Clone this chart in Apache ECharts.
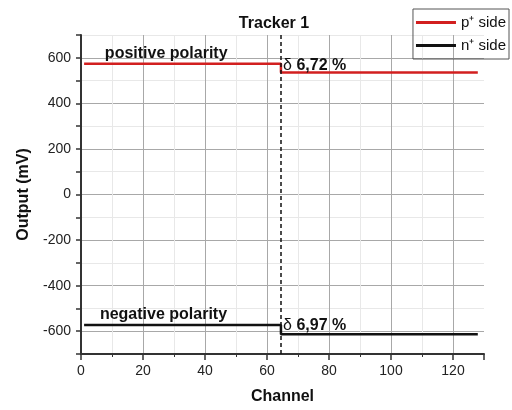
<!DOCTYPE html>
<html>
<head>
<meta charset="utf-8">
<script src="https://cdn.jsdelivr.net/npm/echarts@6/dist/echarts.min.js"></script>
<style>
  html, body { margin: 0; padding: 0; background: #fff; }
  #chart { width: 512px; height: 410px; }
</style>
</head>
<body>
<div id="chart"></div>
<script>
// channel / output values
var stepChannel = 64.5;
var pSide = [[1, 574], [64.5, 574], [64.5, 535], [128, 535]];
var nSide = [[1, -573], [64.5, -573], [64.5, -613], [128, -613]];
var xTicks = { min: 0, max: 130, interval: 20 };
var yTicks = { min: -700, max: 700, interval: 100 };
var labels = {
  pos: 'positive polarity',
  neg: 'negative polarity',
  pDelta: '6,72 %',
  nDelta: '6,97 %'
};

var chart = echarts.init(document.getElementById('chart'), null, { renderer: 'canvas' });
var font = 'Liberation Sans, Arial, sans-serif';
var major = '#a8a8a8', minor = '#e8e8e8';

var textLabel = {
  fontFamily: font, fontSize: 16, fontWeight: 'bold', color: '#111',
  position: 'right', distance: 0
};
var deltaLabel = function (txt) {
  return {
    formatter: '{d|δ} ' + txt,
    rich: { d: { fontFamily: font, fontSize: 16, fontWeight: 'normal', color: '#111' } }
  };
};

var option = {
  animation: false,
  title: {
    text: 'Tracker 1',
    left: 269,
    top: 11,
    textAlign: 'center',
    textStyle: { fontFamily: font, fontSize: 16, fontWeight: 'bold', color: '#111' }
  },
  legend: {
    right: 3,
    top: 9,
    orient: 'vertical',
    borderColor: '#555',
    borderWidth: 1,
    padding: [6, 3, 6, 3],
    itemGap: 8,
    itemWidth: 40,
    itemHeight: 3,
    icon: 'rect',
    textStyle: { fontFamily: font, fontSize: 15, color: '#111' },
    data: ['p⁺ side', 'n⁺ side']
  },
  grid: { left: 81, right: 28, top: 35, bottom: 51 },
  xAxis: {
    type: 'value',
    min: xTicks.min, max: xTicks.max, interval: xTicks.interval,
    name: 'Channel',
    nameLocation: 'middle',
    nameGap: 35,
    nameTextStyle: { fontFamily: font, fontSize: 16, fontWeight: 'bold', color: '#111' },
    axisLine: { onZero: false, lineStyle: { color: '#333', width: 2 } },
    axisTick: { length: 6, lineStyle: { color: '#333', width: 1.5 } },
    minorTick: { show: true, splitNumber: 2, length: 3, lineStyle: { color: '#333' } },
    axisLabel: {
      fontFamily: font, fontSize: 14, color: '#222', margin: 10,
      showMaxLabel: false
    },
    splitLine: {
      show: true,
      lineStyle: { color: [major, major, major, major, major, major, major, 'rgba(0,0,0,0)'], width: 1 }
    },
    minorSplitLine: { show: true, lineStyle: { color: minor, width: 1 } }
  },
  yAxis: {
    type: 'value',
    min: yTicks.min, max: yTicks.max, interval: yTicks.interval,
    name: 'Output (mV)',
    nameLocation: 'middle',
    nameGap: 49,
    nameTextStyle: { fontFamily: font, fontSize: 16, fontWeight: 'bold', color: '#111' },
    axisLine: { show: true, onZero: false, lineStyle: { color: '#333', width: 2 } },
    axisTick: { show: true, length: 5, lineStyle: { color: '#333', width: 1.5 } },
    axisLabel: {
      fontFamily: font, fontSize: 14, color: '#222', margin: 10,
      formatter: function (v) { return v % 200 === 0 ? String(v) : ''; }
    },
    splitLine: { show: true, lineStyle: { color: [minor, major], width: 1 } }
  },
  series: [
    {
      name: 'p⁺ side',
      type: 'line',
      data: pSide,
      symbol: 'none',
      color: '#d21f1f',
      lineStyle: { color: '#d21f1f', width: 2.5 },
      z: 3,
      markLine: {
        silent: true,
        symbol: 'none',
        label: { show: false },
        lineStyle: { color: '#111', type: [4, 3], width: 1.5 },
        data: [{ xAxis: stepChannel }]
      },
      markPoint: {
        symbolSize: 0,
        label: textLabel,
        data: [
          { coord: [7.7, 618], value: labels.pos, label: { formatter: labels.pos } },
          { coord: [65.2, 566], value: labels.pDelta, label: deltaLabel(labels.pDelta) }
        ]
      }
    },
    {
      name: 'n⁺ side',
      type: 'line',
      data: nSide,
      symbol: 'none',
      color: '#111',
      lineStyle: { color: '#111', width: 2.5 },
      z: 3,
      markPoint: {
        symbolSize: 0,
        label: textLabel,
        data: [
          { coord: [6.1, -527], value: labels.neg, label: { formatter: labels.neg } },
          { coord: [65.2, -575], value: labels.nDelta, label: deltaLabel(labels.nDelta) }
        ]
      }
    }
  ]
};

chart.setOption(option);
window.addEventListener('resize', chart.resize);
</script>
</body>
</html>
